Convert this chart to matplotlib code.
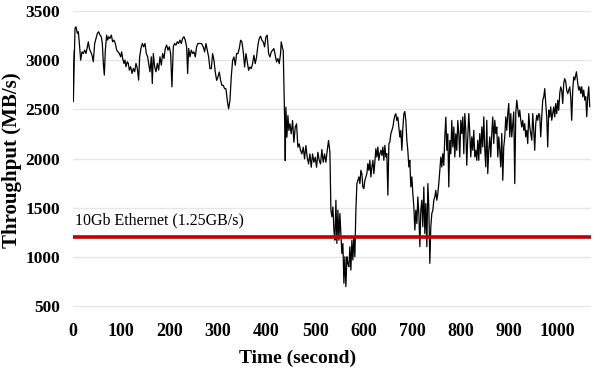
import matplotlib
matplotlib.use("Agg")
import matplotlib.pyplot as plt

# ---- data ----
time_s = [0, 1.3, 4.7, 6.8, 9.6, 11.6, 13.7, 16.4, 19.2, 21.9, 24.7, 27.4, 30.2, 32.2, 34.3, 37.0, 39.8, 42.5,
          45.3, 48.0, 50.8, 53.5, 56.3, 59.0, 61.1, 63.2, 65.2, 67.3, 70.0, 72.1, 74.2, 76.9, 79.7, 82.4,
          85.2, 87.9, 90.7, 93.4, 96.2, 98.9, 101.0, 103.0, 105.8, 107.8, 109.9, 112.6, 114.7, 116.8, 119.5,
          122.3, 125.0, 127.8, 130.5, 133.3, 136.0, 138.1, 140.8, 143.6, 146.3, 149.1, 151.8, 154.6, 156.6,
          159.4, 162.1, 164.2, 166.3, 169.0, 171.8, 174.5, 177.3, 180.0, 182.8, 185.5, 188.3, 191.0, 193.8,
          196.5, 199.3, 202.0, 204.7, 207.5, 210.2, 213.0, 215.7, 218.5, 221.2, 224.0, 226.7, 229.5, 232.2,
          235.0, 237.1, 239.1, 241.9, 244.6, 247.4, 250.1, 252.9, 255.6, 258.4, 261.1,
          265.9, 269.4, 272.1, 274.9, 277.6, 280.4, 283.1, 285.9, 288.6, 291.4, 294.1, 296.9, 299.6, 302.4,
          305.1, 307.9, 310.6, 313.4, 316.1, 318.9, 321.6, 324.4, 327.1, 329.9, 332.6, 335.4, 338.1, 340.9,
          343.6, 346.4, 349.1, 351.9, 354.6, 357.4, 360.1, 362.9, 365.6, 368.3, 371.1, 373.8, 376.6, 379.3,
          382.1, 384.8, 387.6, 390.3, 393.1, 395.8, 398.6, 401.3, 404.1, 406.8, 409.6, 412.3, 415.1, 417.8,
          420.6, 423.3, 426.1, 428.8, 430.2, 433.0, 434.3, 435.7, 437.1, 438.5, 439.8, 441.9, 444.0, 446.0,
          448.1, 450.8, 453.6, 456.3, 459.1, 461.8, 464.6, 467.3, 470.1, 472.8, 475.6, 478.3, 481.1, 483.8,
          486.6, 489.3, 492.1, 494.8, 497.6, 500.3, 503.1, 505.8, 508.6, 511.3, 514.1, 516.8, 519.6, 522.3,
          525.1, 527.8, 530.6, 532.7, 534.7, 536.8, 538.9, 540.9, 543.0, 545.0, 547.1, 549.2, 551.2, 553.3,
          555.3, 557.4, 559.5, 561.5, 563.6, 565.7, 567.7, 569.8, 571.8, 573.9, 576.0, 578.0, 580.1, 582.1,
          584.2, 586.3, 588.3, 590.4, 592.5, 594.5, 596.6, 598.6, 600.7, 602.8, 604.8, 606.9, 608.9, 611.0,
          613.1, 615.1, 617.2, 619.3, 621.3, 623.4, 625.4, 627.5, 629.6, 631.6, 633.7, 635.8, 637.8, 639.9,
          641.9, 644.0, 646.1, 648.1, 650.2, 652.3, 654.3, 656.4, 658.4, 660.5, 662.6, 664.6, 666.7, 668.7,
          670.8, 672.9, 674.9, 677.0, 679.1, 681.1, 683.2, 685.2, 687.3, 689.4, 691.4, 693.5, 695.5, 697.6,
          699.7, 701.7, 703.8, 705.9, 707.9, 710.0, 712.0, 714.1, 716.2, 718.2, 720.3, 722.3, 724.4, 726.5,
          728.5, 730.6, 732.7, 734.7, 736.8, 738.8, 740.9, 743.0, 745.0, 747.1, 749.1, 751.2, 753.3, 755.3,
          757.4, 759.5, 761.5, 763.6, 765.6, 767.7, 769.8, 771.8, 773.9, 775.9, 778.0, 780.1, 782.1, 784.2,
          786.3, 788.3, 790.4, 792.4, 794.5, 796.6,
          798.6, 800.7, 802.7, 804.8, 806.9, 808.9, 811.0, 813.0, 815.1, 817.2, 819.2, 821.3, 823.4, 825.4,
          827.5, 829.5, 831.6, 833.7, 835.7, 837.8, 839.8, 841.9, 844.0, 846.0, 848.1, 850.2, 852.2, 854.3,
          856.3, 858.4, 860.5, 862.5, 864.6, 866.6, 868.7, 870.8, 872.8, 874.9, 877.0, 879.0, 881.1, 883.1,
          885.2, 887.3, 889.3, 891.4, 893.5, 895.5, 897.6, 899.6, 901.7, 903.8, 905.8, 907.9, 909.9, 912.0,
          914.1, 916.1, 918.2, 920.3, 922.3, 924.4, 926.4, 928.5, 930.6, 932.6, 934.7, 936.7, 938.8, 940.9,
          942.9, 945.0, 947.1, 949.1, 951.2, 953.2, 955.3, 957.4, 959.4, 961.5, 963.5, 965.6, 967.7, 969.7,
          971.8, 973.9, 975.9, 978.0, 980.0, 982.1, 984.2, 986.2, 988.3, 990.4, 992.4, 994.5, 996.5, 998.6,
          1000.7, 1002.7, 1004.8, 1006.8, 1008.9, 1011.0, 1013.0, 1015.1, 1017.2, 1019.2, 1021.3, 1023.3, 1025.4, 1027.5,
          1029.5, 1031.6, 1033.6, 1035.8, 1039.2, 1042.0, 1044.0, 1046.1, 1048.2, 1050.2, 1052.3, 1054.3, 1056.4,
          1058.5, 1060.5, 1062.6, 1064.6, 1066.7]

throughput = [3100, 2580, 3324, 3340, 3273, 3290, 3171, 3002, 3086, 3069, 3103, 3069, 3137, 3188, 3120, 3086, 3052, 2985,
              3171, 3222, 3273, 3290, 3256, 3239, 3171, 2968, 2849, 3103, 3256, 3205, 3239, 3222, 3256, 3188,
              3205, 3171, 3103, 3086, 3069, 3035, 3086, 3018, 2968, 3002, 2934, 2985, 2968, 2900, 2934,
              2866, 2917, 2883, 2968, 2917, 2798, 3035, 3120, 3171, 3137, 3171, 3069, 3035, 2968,
              2883, 3035, 2764, 3069, 2934, 2883, 2968, 2900, 3035, 2951, 3069, 3018, 3120, 3154,
              3103, 3137, 3069, 2730, 3137, 3171, 3154, 3188, 3171, 3205, 3171, 3222, 3239, 3205,
              3137, 2866, 3120, 3035, 3103, 3069, 3086, 3035, 3137, 3171, 3171,
              3170, 3136, 3085, 3170, 3102, 3034, 2915, 2915, 3068, 3000, 2881, 2796, 2830, 2881,
              2796, 2745, 2745, 2711, 2711, 2592, 2507, 2592, 2830, 3000, 3034, 2949, 3068, 3068,
              3119, 3204, 3187, 3085, 2932, 3068, 2983, 2898, 2932, 2915, 2966, 3051, 2966, 3034,
              3153, 3221, 3245, 3204, 3187, 3136, 3238, 3255, 3068, 3034, 3085, 3102, 3119, 3051,
              2983, 3017, 2966, 3068, 3187, 3119, 3102, 2762, 2422, 1980, 2524, 2218, 2439, 2286,
              2354, 2252, 2388, 2167, 2320, 2354, 2116, 2150, 2082, 2048, 2116, 1997, 2133, 2014,
              1946, 2048, 1912, 2048, 1963, 2014, 1912, 2065, 1980, 1946, 2092, 1963, 2048, 1963,
              2082, 2184, 2067, 1476, 1408, 1509, 1273, 1171, 1577, 1138, 1476, 1171, 1442, 1239,
              1036, 1138, 732, 1002, 698, 1002, 935, 901, 1104, 867, 1171, 969, 1205, 1002,
              1476, 1746, 1780, 1814, 1746, 1881, 1847, 1712, 1695, 1780, 1814, 1847, 1949, 1881,
              1983, 1814, 1915, 1983, 1847, 1966, 2101, 2016, 2118, 1983, 2050, 2084, 2033, 2118,
              1983, 2135, 2016, 2050, 1628, 2152, 2169, 2253, 2287, 2321, 2388, 2439, 2456, 2388,
              2422, 2321, 2219, 2287, 2084, 2304, 2456, 2479, 2388, 2185, 2084, 1915, 1983, 1712,
              1814, 1645, 1509, 1273, 1476, 1340, 1611, 1442, 1104, 1476, 1577, 1307, 1712, 1239,
              1543, 1104, 1746, 1509, 935, 1307, 1442, 1476, 1577, 1611, 1678, 1577, 1645, 1746,
              1881, 2016, 1915, 2050, 1932, 2219, 2422, 2084, 2253, 1712, 2185, 2050, 2388, 2118,
              2321, 2016, 2253, 2084, 2388, 2243,
              2017, 2390, 2255, 2424, 2051, 2458, 2288, 1932, 2221, 2458, 2255, 2017, 2221, 2085,
              2288, 2017, 2085, 1983, 2187, 1983, 2255, 2051, 2322, 2119, 2424, 2085, 1916, 2390,
              1848, 2085, 2221, 2017, 2255, 2424, 2153, 2390, 2255, 2322, 2017, 2221, 2085, 1916,
              2255, 1780, 2119, 2221, 2424, 2288, 2458, 2560, 2221, 2458, 2221, 2356, 2475, 1746,
              2458, 2594, 2509, 2424, 2492, 2390, 2322, 2390, 2288, 2356, 2221, 2288, 2153, 2458,
              2322, 2255, 2187, 2458, 2288, 2085, 2356, 2441, 2390, 2458, 2441, 2221, 2424, 2594,
              2627, 2712, 2560, 2424, 2119, 2492, 2424, 2526, 2390, 2458, 2526, 2424, 2560, 2458,
              2594, 2492, 2661, 2729, 2695, 2560, 2763, 2814, 2780, 2695, 2661, 2695, 2729, 2627,
              2390, 2695, 2831, 2799, 2883, 2765, 2697, 2731, 2663, 2731, 2629, 2697, 2595,
              2629, 2426, 2629, 2731, 2528]

ethernet_limit = 1200
ethernet_label = "10Gb Ethernet (1.25GB/s)"
x_ticks = [0, 100, 200, 300, 400, 500, 600, 700, 800, 900, 1000]
y_ticks = [500, 1000, 1500, 2000, 2500, 3000, 3500]
x_label = "Time (second)"
y_label = "Throughput (MB/s)"

# ---- figure ----
plt.rcParams['font.family'] = ['Liberation Serif', 'DejaVu Serif']
fig = plt.figure(figsize=(6.06, 3.70), dpi=100)
ax = fig.add_axes([0.12, 0.146, 0.855, 0.824])

ax.plot(time_s, throughput, color='black', linewidth=0.9, zorder=3)
ax.axhline(ethernet_limit, color='#c00000', linewidth=2.6, zorder=4)
ax.text(4.5, ethernet_limit + 90, ethernet_label, fontsize=11.5, color='black',
        ha='left', va='bottom', zorder=5)

ax.set_xlim(0, 1069)
ax.set_ylim(400, 3500)
ax.set_xticks(x_ticks)
ax.set_yticks(y_ticks)
ax.tick_params(axis='x', length=0, labelsize=13, pad=5)
ax.tick_params(axis='y', length=0, labelsize=12.5, pad=9)
for lbl in ax.get_xticklabels() + ax.get_yticklabels():
    lbl.set_fontweight('bold')
ax.grid(axis='y', color='#e6e6e6', linewidth=1)
ax.set_axisbelow(True)
for sp in ax.spines.values():
    sp.set_visible(False)

ax.set_xlabel(x_label, fontsize=14, fontweight='bold')
ax.xaxis.set_label_coords(0.433, -0.11)
ax.set_ylabel(y_label, fontsize=15, fontweight='bold')
ax.yaxis.set_label_coords(-0.097, 0.51)

fig.savefig('out.png', dpi=100)
